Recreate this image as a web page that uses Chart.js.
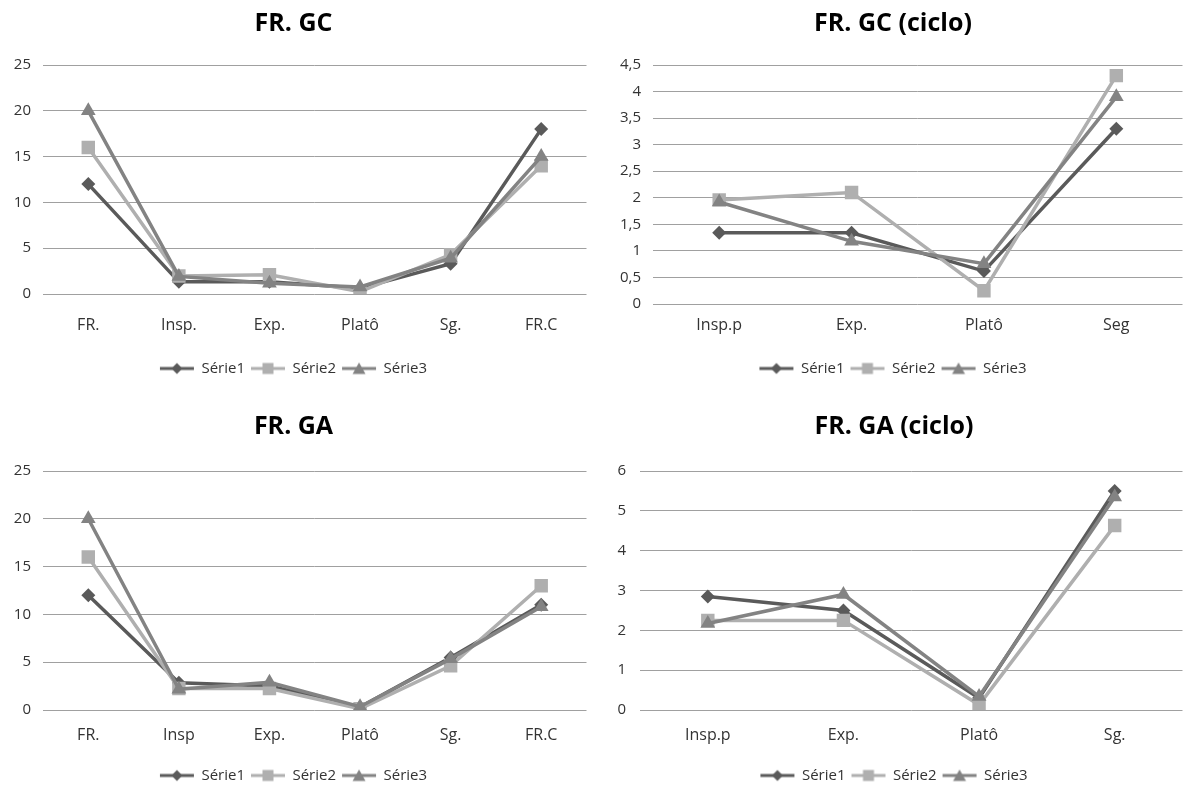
<!DOCTYPE html>
<html>
<head>
<meta charset="utf-8">
<script src="https://cdn.jsdelivr.net/npm/chart.js@4.4.1/dist/chart.umd.min.js"></script>
<style>
  body { margin: 0; background: #fff; width: 1192px; height: 787px; overflow: hidden; position: relative; }
  .box { position: absolute; }
</style>
</head>
<body>
<div class="box" style="left:0;top:0;width:596px;height:390px"><canvas id="gc"></canvas></div>
<div class="box" style="left:596px;top:0;width:596px;height:390px"><canvas id="gcCiclo"></canvas></div>
<div class="box" style="left:0;top:396px;width:596px;height:400px"><canvas id="ga"></canvas></div>
<div class="box" style="left:596px;top:396px;width:596px;height:400px"><canvas id="gaCiclo"></canvas></div>
<script>
// ── DATA ──────────────────────────────────────────────
const seriesNames = ['Série1', 'Série2', 'Série3'];

const gcLabels  = ['FR.', 'Insp.', 'Exp.', 'Platô', 'Sg.', 'FR.C'];
const gcSerie1  = [12, 1.33, 1.33, 0.62, 3.3, 18];
const gcSerie2  = [16, 1.96, 2.1, 0.25, 4.3, 14];
const gcSerie3  = [20, 1.92, 1.18, 0.76, 3.9, 15];

const gcCicloLabels = ['Insp.p', 'Exp.', 'Platô', 'Seg'];
const gcCicloSerie1 = [1.34, 1.34, 0.62, 3.3];
const gcCicloSerie2 = [1.96, 2.1, 0.25, 4.3];
const gcCicloSerie3 = [1.92, 1.18, 0.76, 3.9];
const gcCicloTicks  = [0, 4.5, 0.5];   // min, max, step

const gaLabels  = ['FR.', 'Insp', 'Exp.', 'Platô', 'Sg.', 'FR.C'];
const gaSerie1  = [12, 2.85, 2.5, 0.3, 5.5, 11];
const gaSerie2  = [16, 2.25, 2.25, 0.13, 4.63, 13];
const gaSerie3  = [20, 2.17, 2.9, 0.34, 5.35, 10.8];

const gaCicloLabels = ['Insp.p', 'Exp.', 'Platô', 'Sg.'];
const gaCicloSerie1 = [2.85, 2.5, 0.3, 5.5];
const gaCicloSerie2 = [2.25, 2.25, 0.13, 4.63];
const gaCicloSerie3 = [2.17, 2.9, 0.34, 5.35];
const gaCicloTicks  = [0, 6, 1];

const freqTicks = [0, 25, 5];

// ── STYLE ─────────────────────────────────────────────
const FONT = '"Open Sans", "DejaVu Sans", sans-serif';
const TEXT = '#333';
const COLORS = ['#5a5a5a', '#afafaf', '#838383'];
const MARKERS = [
  { style: 'rectRot',  radius: 7 },
  { style: 'rect',     radius: 9.5 },
  { style: 'triangle', radius: 8.5 },
];

// small line + marker swatch used as the legend symbol
function swatch(color, style) {
  const c = document.createElement('canvas');
  c.width = 36; c.height = 14;
  const ctx = c.getContext('2d');
  ctx.strokeStyle = color; ctx.fillStyle = color; ctx.lineWidth = 3;
  ctx.beginPath(); ctx.moveTo(1, 7); ctx.lineTo(35, 7); ctx.stroke();
  ctx.beginPath();
  if (style === 'rectRot') {
    ctx.moveTo(18, 1.5); ctx.lineTo(23.5, 7); ctx.lineTo(18, 12.5); ctx.lineTo(12.5, 7);
  } else if (style === 'rect') {
    ctx.rect(12.5, 1.5, 11, 11);
  } else {
    ctx.moveTo(18, 1); ctx.lineTo(24.5, 12.5); ctx.lineTo(11.5, 12.5);
  }
  ctx.closePath(); ctx.fill();
  return c;
}
const SWATCHES = COLORS.map((c, i) => swatch(c, MARKERS[i].style));

function buildChart(id, o) {
  const datasets = o.series.map((data, i) => ({
    label: seriesNames[i],
    data,
    borderColor: COLORS[i],
    backgroundColor: COLORS[i],
    borderWidth: 3.5,
    pointStyle: MARKERS[i].style,
    pointRadius: MARKERS[i].radius,
    pointHoverRadius: MARKERS[i].radius,
    pointBorderWidth: 0,
    pointBackgroundColor: COLORS[i],
    tension: 0,
    order: 3 - i,   // Série3 ends up drawn on top
  }));

  return new Chart(document.getElementById(id), {
    type: 'line',
    data: { labels: o.labels, datasets },
    options: {
      responsive: true, maintainAspectRatio: false, animation: false,
      layout: { padding: { left: 0, right: o.padRight, top: 0, bottom: o.padBottom } },
      plugins: {
        title: {
          display: true, text: o.title, color: '#000',
          font: { family: FONT, size: 25, weight: 'bold' },
          padding: { top: o.titleTop, bottom: o.titleBottom },
        },
        legend: {
          position: 'bottom',
          labels: {
            usePointStyle: true, pointStyleWidth: 34, boxHeight: 14,
            padding: 6, color: TEXT,
            font: { family: FONT, size: 15 },
            sort: (a, b) => a.datasetIndex - b.datasetIndex,
            generateLabels: chart => Chart.defaults.plugins.legend.labels.generateLabels(chart)
              .map(item => ({ ...item, pointStyle: SWATCHES[item.datasetIndex] })),
          },
        },
        tooltip: { enabled: false },
      },
      scales: {
        x: {
          offset: true,
          grid: { display: false, drawTicks: false },
          border: { display: false },
          ticks: { color: TEXT, font: { family: FONT, size: 16 }, padding: o.xPad, maxRotation: 0 },
          afterFit: s => { s.height = o.xHeight; },
        },
        y: {
          min: o.ticks[0], max: o.ticks[1],
          grid: { color: '#a0a0a0', lineWidth: 1, drawTicks: false },
          border: { display: false },
          ticks: {
            stepSize: o.ticks[2], padding: o.yPad, color: TEXT,
            font: { family: FONT, size: 15 },
            callback: v => String(v).replace('.', ','),
          },
          afterFit: s => { s.width = o.yWidth; },
        },
      },
    },
  });
}

buildChart('gc', {
  title: 'FR. GC', labels: gcLabels, series: [gcSerie1, gcSerie2, gcSerie3], ticks: freqTicks,
  titleTop: 9, titleBottom: 26, yWidth: 43, yPad: 12, padRight: 9,
  xHeight: 61, xPad: 22, padBottom: 4,
});
buildChart('gcCiclo', {
  title: 'FR. GC (ciclo)', labels: gcCicloLabels, series: [gcCicloSerie1, gcCicloSerie2, gcCicloSerie3], ticks: gcCicloTicks,
  titleTop: 9, titleBottom: 26, yWidth: 57, yPad: 12, padRight: 2,
  xHeight: 51, xPad: 12, padBottom: 4,
});
buildChart('ga', {
  title: 'FR. GA', labels: gaLabels, series: [gaSerie1, gaSerie2, gaSerie3], ticks: freqTicks,
  titleTop: 16, titleBottom: 29, yWidth: 43, yPad: 12, padRight: 9,
  xHeight: 52, xPad: 16, padBottom: 3,
});
buildChart('gaCiclo', {
  title: 'FR. GA (ciclo)', labels: gaCicloLabels, series: [gaCicloSerie1, gaCicloSerie2, gaCicloSerie3], ticks: gaCicloTicks,
  titleTop: 16, titleBottom: 29, yWidth: 44, yPad: 14, padRight: 0,
  xHeight: 52, xPad: 16, padBottom: 3,
});
</script>
</body>
</html>
